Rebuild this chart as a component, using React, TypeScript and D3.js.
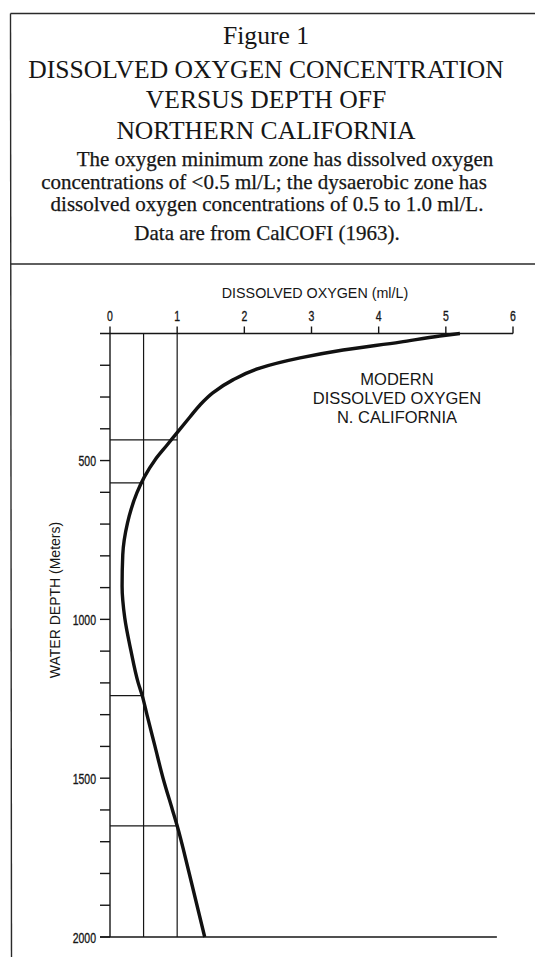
import React from "react";
import * as d3 from "d3";

// Dissolved-oxygen profile off northern California (CalCOFI 1963)
const DEPTH_M = [100, 108, 127, 152, 177, 209, 246, 287, 325, 363, 404, 451, 498, 552, 602, 697, 797, 895, 996, 1097, 1200, 1240, 1300, 1400, 1500, 1600, 1650, 1800, 2000];
const OXYGEN_ML_L = [5.21, 4.91, 4.32, 3.47, 2.83, 2.23, 1.83, 1.53, 1.34, 1.19, 1.03, 0.85, 0.67, 0.51, 0.4, 0.26, 0.19, 0.18, 0.22, 0.31, 0.42, 0.48, 0.55, 0.67, 0.79, 0.93, 1.0, 1.18, 1.41];

// Zone thresholds (ml/L) and the depths where the profile crosses them
const ZONE_LIMITS = [0.5, 1.0];
const CROSSING_DEPTHS = [435, 570, 1240, 1650];
const CROSSING_LEVELS = [1.0, 0.5, 0.5, 1.0];

const X_TICKS = [0, 1, 2, 3, 4, 5, 6];
const Y_TICKS = [200, 300, 400, 500, 600, 700, 800, 900, 1000, 1100, 1200, 1300, 1400, 1500, 1600, 1700, 1800, 1900, 2000];
const Y_LABELS = [500, 1000, 1500, 2000];
const DEPTH_DOMAIN = [100, 2000];
const OXYGEN_DOMAIN = [0, 6];
const BASE_LINE_END = 5.76;

const TITLE_LINES = ["Figure 1", "DISSOLVED OXYGEN CONCENTRATION", "VERSUS DEPTH OFF", "NORTHERN CALIFORNIA"];
const NOTE_LINES = [
  "The oxygen minimum zone has dissolved oxygen",
  "concentrations of <0.5 ml/L; the dysaerobic zone has",
  "dissolved oxygen concentrations of 0.5 to 1.0 ml/L.",
  "Data are from CalCOFI (1963).",
];
const LEGEND_LINES = ["MODERN", "DISSOLVED OXYGEN", "N. CALIFORNIA"];

const W = 535;
const H = 957;
const serif = "'Liberation Serif', 'Times New Roman', serif";
const sans = "'Liberation Sans', Arial, sans-serif";
const ink = "#161616";
// condensed numerals: regular sans squeezed horizontally
const SQUEEZE = 0.7;

export default function App() {
  const x = d3.scaleLinear().domain(OXYGEN_DOMAIN).range([110, 513]);
  const y = d3.scaleLinear().domain(DEPTH_DOMAIN).range([333.5, 937]);

  const profile = DEPTH_M.map((d, i) => ({ depth: d, ox: OXYGEN_ML_L[i] }));
  const line = d3
    .line<{ depth: number; ox: number }>()
    .x((d) => x(d.ox))
    .y((d) => y(d.depth))
    .curve(d3.curveMonotoneY);

  const top = y(DEPTH_DOMAIN[0]);
  const bottom = y(DEPTH_DOMAIN[1]);
  const titleY = [44, 78, 108, 139];
  const noteY = [166, 189, 211, 240];
  const noteX = [285, 264, 267, 267];
  const legendY = [385, 404, 423];

  return (
    <svg
      width={W}
      height={H}
      viewBox={`0 0 ${W} ${H}`}
      style={{ position: "absolute", left: 0, top: 0, background: "#fff" }}
    >
      {/* panel frame */}
      <g stroke="#2a2a2a" strokeWidth={1.4} fill="none">
        <line x1={10.5} y1={13.5} x2={W + 5} y2={13.5} />
        <line x1={10.5} y1={13.5} x2={11.5} y2={H + 5} />
        <line x1={10.5} y1={264} x2={W + 5} y2={264} />
      </g>

      {/* heading */}
      <g fontFamily={serif} fill={ink} textAnchor="middle">
        {TITLE_LINES.map((t, i) => (
          <text key={t} x={266} y={titleY[i]} fontSize={25.6}>
            {t}
          </text>
        ))}
        {NOTE_LINES.map((t, i) => (
          <text key={t} x={noteX[i]} y={noteY[i]} fontSize={21} stroke={ink} strokeWidth={0.25}>
            {t}
          </text>
        ))}
      </g>

      {/* axis titles */}
      <text x={315} y={298} fontFamily={sans} fontSize={14.3} textAnchor="middle" fill={ink}>
        DISSOLVED OXYGEN (ml/L)
      </text>
      <text
        transform={`translate(60,600) rotate(-90)`}
        fontFamily={sans}
        fontSize={14}
        textAnchor="middle"
        fill={ink}
      >
        WATER DEPTH (Meters)
      </text>

      {/* top oxygen axis */}
      <g stroke={ink} strokeWidth={1.4}>
        <line x1={x(0) - 10} x2={x(OXYGEN_DOMAIN[1])} y1={top} y2={top} />
        {X_TICKS.map((t) => (
          <line key={t} x1={x(t)} x2={x(t)} y1={top} y2={top - 7} />
        ))}
      </g>
      <g fontFamily={sans} fontSize={15} textAnchor="middle" fill={ink} stroke={ink} strokeWidth={0.35}>
        {X_TICKS.map((t) => (
          <text key={t} transform={`translate(${x(t)},320.5) scale(${SQUEEZE},1)`}>
            {t}
          </text>
        ))}
      </g>

      {/* depth axis */}
      <g stroke={ink} strokeWidth={1.4}>
        <line x1={x(0)} x2={x(0)} y1={top} y2={bottom} />
        {Y_TICKS.map((t) => (
          <line key={t} x1={x(0) - 10} x2={x(0)} y1={y(t)} y2={y(t)} />
        ))}
        <line x1={x(0) - 10} x2={x(BASE_LINE_END)} y1={bottom} y2={bottom} />
      </g>
      <g fontFamily={sans} fontSize={15} textAnchor="end" fill={ink} stroke={ink} strokeWidth={0.35}>
        {Y_LABELS.map((t) => (
          <text key={t} transform={`translate(96,${y(t) + 5.5}) scale(${SQUEEZE},1)`}>
            {t}
          </text>
        ))}
      </g>

      {/* zone boundaries */}
      <g stroke={ink} strokeWidth={1.2}>
        {ZONE_LIMITS.map((v) => (
          <line key={v} x1={x(v)} x2={x(v)} y1={top} y2={bottom} />
        ))}
        {CROSSING_DEPTHS.map((d, i) => (
          <line key={d} x1={x(0)} x2={x(CROSSING_LEVELS[i])} y1={y(d)} y2={y(d)} />
        ))}
      </g>

      {/* oxygen profile */}
      <path d={line(profile) ?? ""} fill="none" stroke="#111" strokeWidth={3.4} strokeLinecap="butt" />

      {/* curve label */}
      <g fontFamily={sans} fontSize={16.5} textAnchor="middle" fill={ink}>
        {LEGEND_LINES.map((t, i) => (
          <text key={t} x={397} y={legendY[i]}>
            {t}
          </text>
        ))}
      </g>
    </svg>
  );
}
